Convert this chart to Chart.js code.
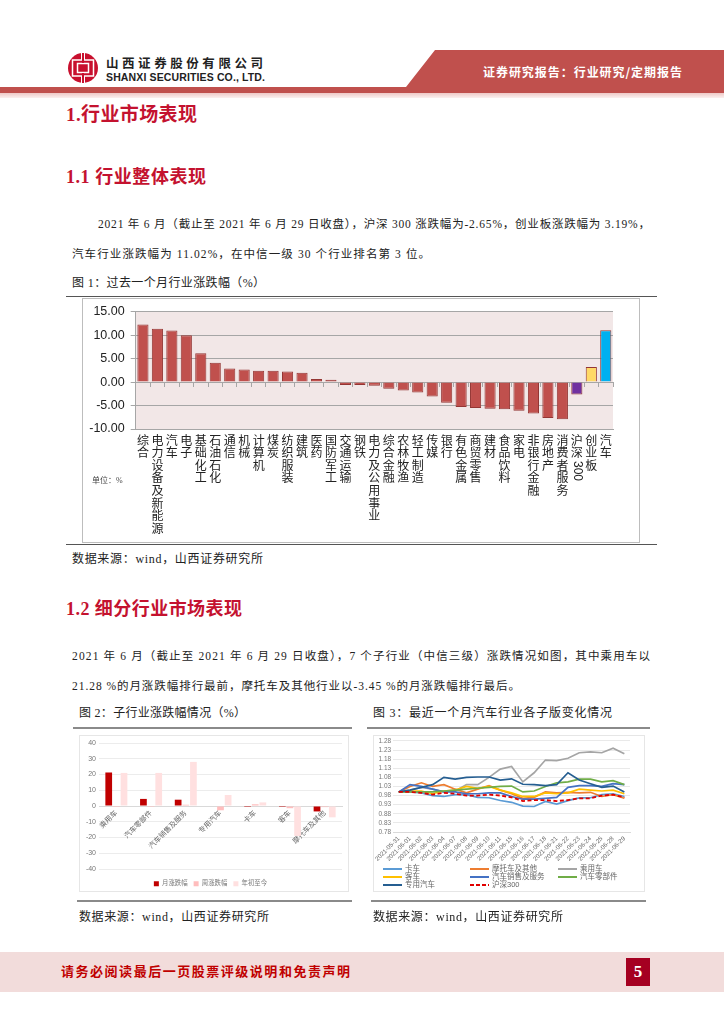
<!DOCTYPE html>
<html><head><meta charset="utf-8">
<script src="https://cdn.jsdelivr.net/npm/chart.js@4"></script>
<style>
html,body{margin:0;padding:0;background:#fff;width:724px;height:1024px;overflow:hidden}
.t{position:absolute;white-space:nowrap;font-family:"Liberation Serif","Noto Sans CJK SC",serif;color:#222;font-size:12px;line-height:16px}
.h{color:#C4122F;font-weight:700}
.r{position:absolute;background:#555}
.box{position:absolute;background:#fff;box-sizing:border-box}
canvas{display:block}
</style></head><body>
<svg style="position:absolute;left:0;top:0" width="724" height="100">
<defs><linearGradient id="g" x1="0" y1="0" x2="0" y2="1"><stop offset="0" stop-color="#EFC9C7"/><stop offset="1" stop-color="#FBF0EF"/></linearGradient></defs>
<polygon points="435,50 724,50 724,93 0,93 0,87 406,87" fill="#C0504D"/>
<rect x="0" y="93" width="724" height="5" fill="url(#g)"/>
<circle cx="83" cy="68" r="15" fill="#C8102E"/>
<rect x="72.500" y="60" width="21" height="16" fill="none" stroke="#fff" stroke-width="1.500"/>
<rect x="77.500" y="63.500" width="11" height="9" fill="none" stroke="#fff" stroke-width="1.500"/>
<rect x="81" y="53" width="4" height="7" fill="#fff"/><rect x="81" y="76" width="4" height="7" fill="#fff"/>
<rect x="82" y="53" width="2" height="10" fill="#C8102E"/><rect x="82" y="73" width="2" height="10" fill="#C8102E"/>
</svg>
<div class="t" data-w="157" style="left:106px;top:55px;font:700 12.500px/16px 'Noto Sans CJK SC';color:#222">山西证券股份有限公司</div>
<div class="t" data-w="159" style="left:106px;top:70px;font:700 10.500px/14px 'Liberation Sans';color:#222">SHANXI SECURITIES CO., LTD.</div>
<div class="t" data-w="199" style="left:483px;top:64px;font:700 12px/16px 'Noto Sans CJK SC';color:#fff">证券研究报告：行业研究/定期报告</div>

<div class="t h" data-w="131" style="left:66px;top:103px;font-size:19px;line-height:24px">1.行业市场表现</div>
<div class="t h" data-w="140" style="left:66px;top:165px;font-size:18px;line-height:24px">1.1 行业整体表现</div>
<div class="t" data-w="552" style="left:98px;top:216px;font-size:11.500px">2021 年 6 月（截止至 2021 年 6 月 29 日收盘），沪深 300 涨跌幅为-2.65%，创业板涨跌幅为 3.19%，</div>
<div class="t" data-w="358" style="left:72px;top:246px;font-size:11.500px">汽车行业涨跌幅为 11.02%，在中信一级 30 个行业排名第 3 位。</div>
<div class="t" data-w="193" style="left:72px;top:275px;font-size:12px">图 1：过去一个月行业涨跌幅（%）</div>
<div class="r" style="left:66px;top:296px;width:591px;height:1px"></div>
<div class="r" style="left:66px;top:544px;width:591px;height:1px"></div>
<div class="box" style="left:82px;top:298px;width:558px;height:245px;border:1.500px solid #bdbdbd"></div>
<canvas id="c1" style="position:absolute;left:82px;top:298px;filter:blur(.35px)" width="558" height="244"></canvas>
<div class="t" style="left:92px;top:475px;font-size:8px;line-height:12px;color:#444">单位：%</div>
<div class="t" data-w="191" style="left:72px;top:551px;font-size:12px">数据来源：wind，山西证券研究所</div>

<div class="t h" data-w="176" style="left:66px;top:597px;font-size:18px;line-height:24px">1.2 细分行业市场表现</div>
<div class="t" data-w="578" style="left:72px;top:648px;font-size:11.500px">2021 年 6 月（截止至 2021 年 6 月 29 日收盘），7 个子行业（中信三级）涨跌情况如图，其中乘用车以</div>
<div class="t" data-w="448" style="left:72px;top:678px;font-size:11.500px">21.28 %的月涨跌幅排行最前，摩托车及其他行业以-3.45 %的月涨跌幅排行最后。</div>
<div class="t" data-w="167" style="left:79px;top:705px;font-size:12px">图 2：子行业涨跌幅情况（%）</div>
<div class="t" data-w="239" style="left:373px;top:705px;font-size:12px">图 3：最近一个月汽车行业各子版变化情况</div>
<div class="r" style="left:73px;top:727px;width:279px;height:2px;background:#8a8a8a"></div>
<div class="r" style="left:367px;top:727px;width:283px;height:2px;background:#8a8a8a"></div>
<div class="box" style="left:79px;top:735px;width:270px;height:157px;border:1px solid #e6e6e6"></div>
<canvas id="c2" style="position:absolute;left:79px;top:735px;filter:blur(.5px)" width="270" height="157"></canvas>
<div class="box" style="left:373px;top:735px;width:272px;height:157px;border:1px solid #e6e6e6"></div>
<canvas id="c3" style="position:absolute;left:373px;top:735px;filter:blur(.5px)" width="272" height="157"></canvas>
<div id="lg3" style="filter:blur(.4px)"></div>
<div class="r" style="left:77px;top:900px;width:275px;height:2px;background:#8a8a8a"></div>
<div class="r" style="left:371px;top:900px;width:275px;height:2px;background:#8a8a8a"></div>
<div class="t" data-w="190" style="left:79px;top:909px;font-size:12px">数据来源：wind，山西证券研究所</div>
<div class="t" data-w="190" style="left:373px;top:909px;font-size:12px">数据来源：wind，山西证券研究所</div>

<div style="position:absolute;left:0;top:952px;width:724px;height:40px;background:#F2DCDB"></div>
<div class="t" data-w="289" style="left:61px;top:964px;font-size:13px;font-weight:700;color:#C00000">请务必阅读最后一页股票评级说明和免责声明</div>
<div style="position:absolute;left:626px;top:958px;width:24px;height:28px;background:#A50021;color:#fff;font:700 17px/28px 'Liberation Serif';text-align:center">5</div>

<script>
const industries=['综合','电力设备及新能源','汽车','电子','基础化工','石油石化','通信','机械','计算机','煤炭','纺织服装','建筑','医药','国防军工','交通运输','钢铁','电力及公用事业','综合金融','农林牧渔','轻工制造','传媒','银行','有色金属','商贸零售','建材','食品饮料','家电','非银行金融','房地产','消费者服务','沪深300','创业板','汽车'];
const industryChange=[12.27,11.35,11.0,10.0,6.17,4.11,2.9,2.7,2.4,2.4,2.27,2.0,0.65,0.5,-0.6,-0.6,-0.8,-1.4,-1.8,-2.2,-3.05,-4.4,-5.3,-5.5,-5.7,-5.8,-6.1,-6.67,-7.66,-7.94,-2.65,3.19,11.02];
const subIndustries=['乘用车','汽车零部件','汽车销售及服务','专用汽车','卡车','客车','摩托车及其他'];
const monthChange=[21.28,4.5,4.0,0.3,-0.6,-0.6,-3.45];
const weekChange=[-0.6,-0.6,0.8,-2.7,1.1,-1.4,-0.7];
const ytdChange=[21,21,28,7,2.3,-19,-7.2];
const dates=['2021-05-31','2021-06-01','2021-06-02','2021-06-03','2021-06-04','2021-06-07','2021-06-08','2021-06-09','2021-06-10','2021-06-11','2021-06-15','2021-06-16','2021-06-17','2021-06-18','2021-06-21','2021-06-22','2021-06-23','2021-06-24','2021-06-25','2021-06-28','2021-06-29'];
const truck=[1.0,1.0,0.995,0.98,0.975,0.985,0.985,0.97,0.968,0.953,0.943,0.922,0.92,0.948,0.933,0.952,0.967,0.968,0.985,0.99,0.975];
const moto=[1.0,1.03,1.05,1.03,1.04,1.015,0.995,1.015,1.035,1.01,0.99,0.965,0.97,1.0,0.995,0.998,0.995,0.998,0.975,0.985,0.965];
const passenger=[1.0,1.01,1.025,1.015,1.0,1.005,1.04,1.04,1.08,1.125,1.14,1.055,1.105,1.175,1.172,1.185,1.215,1.22,1.215,1.24,1.21];
const bus=[1.0,1.005,1.005,0.99,1.005,1.01,1.03,1.02,1.03,1.01,0.995,0.975,0.975,0.995,0.99,0.995,1.015,1.01,1.005,1.01,0.99];
const sales=[1.0,1.04,1.03,1.015,1.0,1.0,0.99,0.99,0.995,0.995,0.975,0.96,0.96,0.965,0.97,1.025,1.035,1.035,1.03,1.045,1.04];
const parts=[1.0,1.0,1.0,1.0,1.005,1.01,1.015,1.02,1.025,1.03,1.032,1.0,1.005,1.03,1.05,1.055,1.07,1.07,1.055,1.062,1.04];
const special=[1.0,1.01,1.025,1.04,1.08,1.07,1.08,1.082,1.082,1.065,1.072,1.042,1.04,1.035,1.04,1.105,1.065,1.045,1.025,1.032,1.0];
const hs300=[1.0,1.0,0.995,0.985,0.995,0.99,0.98,0.98,0.985,0.98,0.97,0.95,0.955,0.955,0.95,0.955,0.965,0.965,0.98,0.985,0.97];

document.querySelectorAll('[data-w]').forEach(el=>{
  const n=Array.from(el.textContent).length,w=el.getBoundingClientRect().width;
  el.style.letterSpacing=((+el.dataset.w-w)/(n-1))+'px';
});

Chart.defaults.animation=false;
Chart.defaults.responsive=false;
Chart.defaults.plugins.tooltip.enabled=false;
const SANS="'Liberation Sans','Noto Sans CJK SC',sans-serif";

const plotBg={id:'plotBg',beforeDraw(c){const a=c.chartArea,x=c.ctx;x.save();x.fillStyle='#F2E7E7';x.fillRect(a.left,a.top,a.right-a.left,a.bottom-a.top);x.restore();}};
const rotated300={id:'rotated300',afterDraw(c){const s=c.scales.x,x=c.ctx,i=industries.indexOf('沪深300');
  x.save();x.translate(s.getPixelForTick(i),163);x.rotate(Math.PI/2);x.font="12px 'Liberation Sans'";x.fillStyle='#222';x.textAlign='left';x.textBaseline='middle';x.fillText('300',0,0);x.restore();}};
const moveLegend={id:'moveLegend',afterLayout(c){const l=c.legend,h=l.bottom-l.top;l.top=139.5;l.bottom=l.top+h;}};
const barFill=industries.map((n,i)=>i===30?'#7030A0':i===31?'#FFD966':i===32?'#00B0F0':'#C0504D');

new Chart(document.getElementById('c1'),{type:'bar',
  data:{labels:industries,datasets:[{data:industryChange,backgroundColor:barFill,borderColor:'#943634',borderWidth:1,barPercentage:.77,categoryPercentage:1}]},
  plugins:[plotBg,rotated300],
  options:{layout:{padding:{top:13.7,right:27,left:0,bottom:0}},plugins:{legend:{display:false}},
    scales:{
      y:{min:-10,max:15,afterFit:s=>{s.width=53.7},ticks:{stepSize:5,padding:6,color:'#222',font:{family:SANS,size:12.5},callback:v=>v.toFixed(2)},grid:{color:'#a6a6a6',lineWidth:1,tickLength:5,tickColor:'#a6a6a6'},border:{color:'#a6a6a6'}},
      x:{afterFit:s=>{s.height=113},grid:{display:false,tickLength:0},border:{color:'#a6a6a6'},
        ticks:{autoSkip:false,maxRotation:0,minRotation:0,padding:6,color:'#222',font:{family:SANS,size:12,lineHeight:'12.6px'},
          callback(v){return Array.from(this.getLabelForValue(v).replace(/\d+/,''));}}},
      x2:{type:'category',labels:industries,position:{y:0},offset:true,grid:{offset:true,drawOnChartArea:false,tickLength:4,tickColor:'#a6a6a6'},border:{color:'#a6a6a6'},ticks:{display:false}}
    }}});

new Chart(document.getElementById('c2'),{type:'bar',
  data:{labels:subIndustries,datasets:[
    {label:'月涨跌幅',data:monthChange,backgroundColor:'#C00000'},
    {label:'周涨跌幅',data:weekChange,backgroundColor:'#FFBDBD'},
    {label:'年初至今',data:ytdChange,backgroundColor:'#FFE0E0'}].map(d=>({...d,barPercentage:.88,categoryPercentage:.66}))},
  plugins:[moveLegend],
  options:{layout:{padding:{top:8,right:7,left:0,bottom:7}},
    plugins:{legend:{position:'bottom',maxHeight:16,labels:{boxWidth:5,boxHeight:5,padding:6,color:'#777',font:{family:SANS,size:6.4}}}},
    scales:{
      y:{min:-40,max:40,afterFit:s=>{s.width=20},ticks:{stepSize:10,padding:3,color:'#777',font:{family:SANS,size:7}},grid:{color:'#ececec',tickLength:0},border:{display:false}},
      x:{position:{y:0},grid:{display:false,tickLength:0},border:{color:'#d9d9d9'},ticks:{autoSkip:false,maxRotation:45,minRotation:45,padding:3,color:'#666',font:{family:SANS,size:7.2}}}
    }}});

const lineSeries=[
  {label:'卡车',data:truck,color:'#5B9BD5'},
  {label:'摩托车及其他',data:moto,color:'#ED7D31'},
  {label:'乘用车',data:passenger,color:'#A5A5A5'},
  {label:'客车',data:bus,color:'#FFC000'},
  {label:'汽车销售及服务',data:sales,color:'#4472C4'},
  {label:'汽车零部件',data:parts,color:'#70AD47'},
  {label:'专用汽车',data:special,color:'#255E91'},
  {label:'沪深300',data:hs300,color:'#E00000',dash:[4,2.5]}];
new Chart(document.getElementById('c3'),{type:'line',
  data:{labels:dates,datasets:lineSeries.map((s,i)=>({label:s.label,data:s.data,borderColor:s.color,borderWidth:s.dash?1.8:1.7,borderDash:s.dash||[],pointRadius:0,tension:0,order:lineSeries.length-i,fill:false}))},
  options:{layout:{padding:{top:4.7,right:15,left:0,bottom:0}},plugins:{legend:{display:false}},
    scales:{
      y:{min:.78,max:1.28,afterFit:s=>{s.width=17},ticks:{stepSize:.05,autoSkip:false,padding:2,color:'#777',font:{family:SANS,size:6.5},callback:v=>v.toFixed(2)},grid:{color:'#e9e9e9',tickLength:0},border:{display:false}},
      x:{offset:true,afterFit:s=>{s.height=60},grid:{display:false,tickLength:0},border:{color:'#d9d9d9'},ticks:{autoSkip:false,maxRotation:45,minRotation:45,padding:3,color:'#666',font:{family:SANS,size:6.2}}}
    }}});

const lgCols=[383,470,558],lgRows=[869,877.3,885.3];
document.getElementById('lg3').innerHTML=lineSeries.map((s,i)=>{
  const c=lgCols[i%3],r=lgRows[Math.floor(i/3)];
  const stroke=s.dash?`background:repeating-linear-gradient(90deg,${s.color} 0 4px,transparent 4px 6px)`:`background:${s.color}`;
  return `<div style="position:absolute;left:${c}px;top:${r-1}px;width:19px;height:2px;${stroke}"></div>`+
   `<div class="t" style="left:${c+22}px;top:${r-5}px;font:7.5px/10px ${SANS};color:#666">${s.label}</div>`;}).join('');
</script>
</body></html>
